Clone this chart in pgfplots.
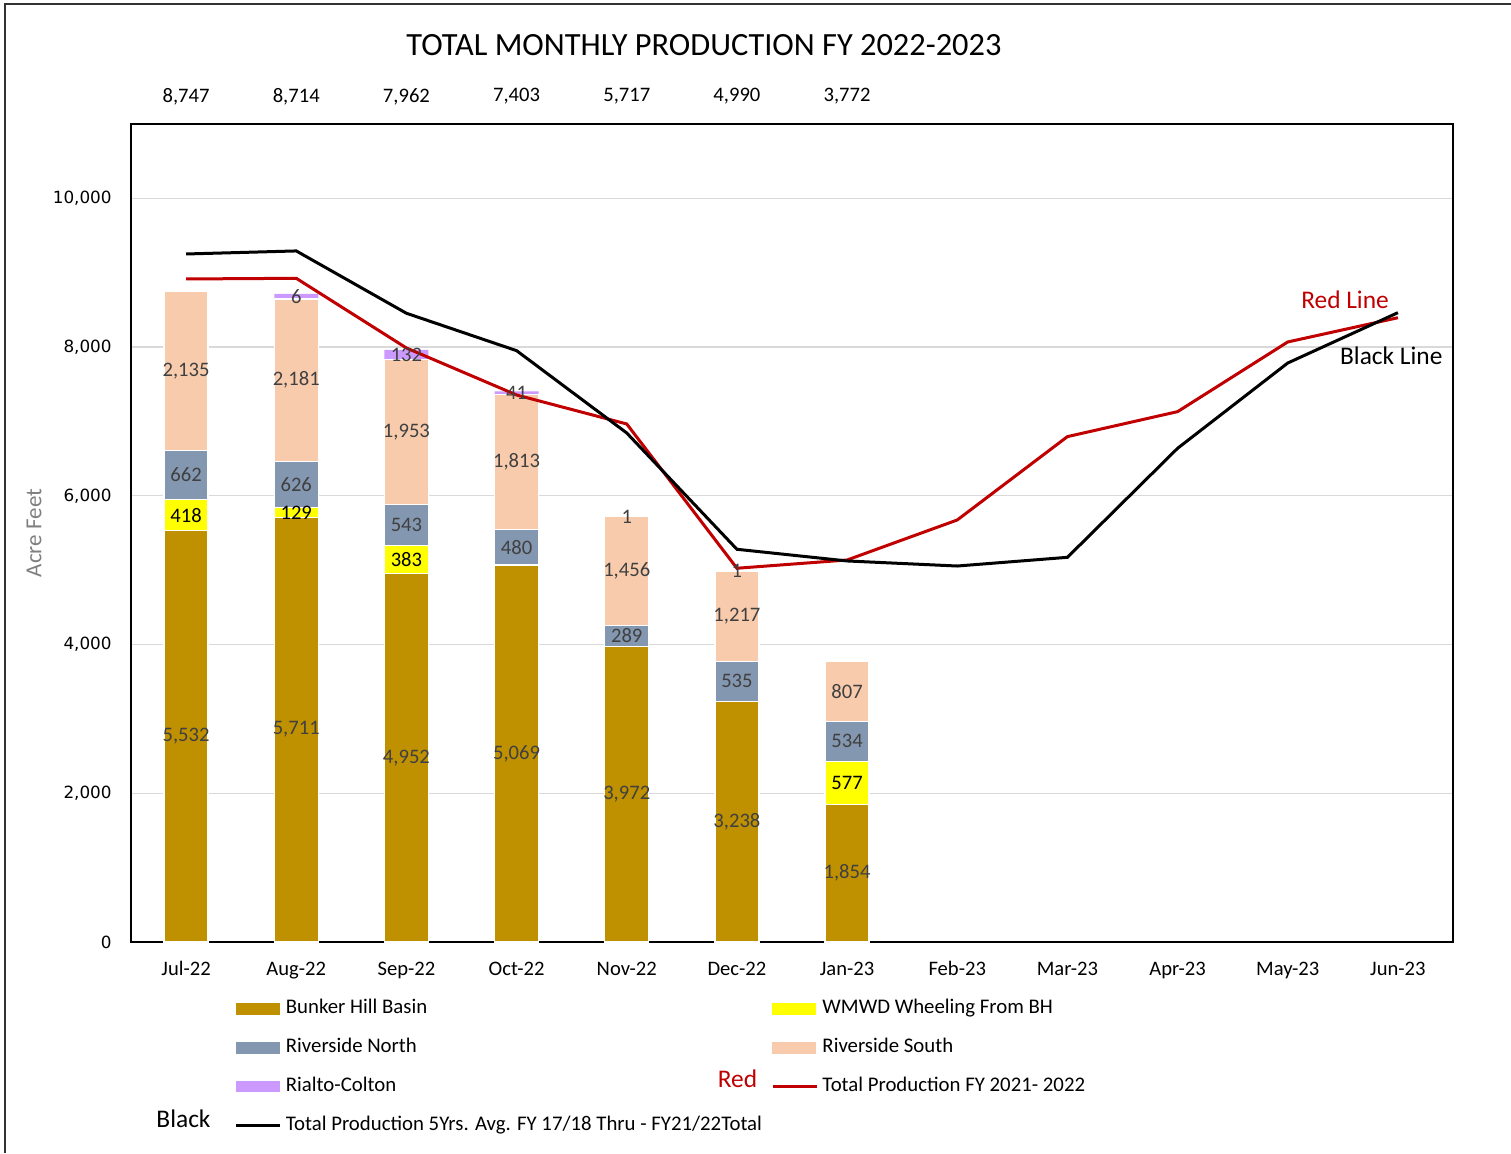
\documentclass[border=0pt]{standalone}
\usepackage{pgfplots}
\pgfplotsset{compat=1.18}
\usepackage{fontspec}
\setmainfont{Carlito}
\newfontfamily\dejavu{DejaVu Sans}
\definecolor{bunker}{HTML}{BF9000}
\definecolor{wmwd}{HTML}{FFFF00}
\definecolor{rivn}{HTML}{8497B0}
\definecolor{rivs}{HTML}{F8CBAD}
\definecolor{rialto}{HTML}{CC99FF}
\definecolor{redl}{HTML}{C00000}
\definecolor{lbl}{HTML}{404040}
\definecolor{gridc}{HTML}{D9D9D9}
\definecolor{axlbl}{HTML}{7F7F7F}

\pgfplotsset{
  common/.style={
    scale only axis, width=661pt, height=409pt,
    at={(65.5pt,105.5pt)}, anchor=south west,
    xmin=-0.5, xmax=11.5, ymin=0, ymax=11000,
  },
  seglabels/.style={
    nodes near coords,
    point meta=explicit symbolic,
    every node near coord/.append style={font=\fontsize{10.3}{12}\selectfont, text=#1, anchor=center, inner sep=0pt},
  },
  seglabels/.default=lbl,
}

\begin{document}
\begin{tikzpicture}
\useasboundingbox (0,0) rectangle (755.5pt,576.5pt);
% frame
\draw[line width=0.8pt, black!80] (2.5pt,0pt) -- (2.5pt,574.5pt) -- (755.5pt,574.5pt);

% ---------- axis 1 : bars ----------
\begin{axis}[common,
  ybar stacked, bar width=22pt,
  axis line style={black, line width=0.75pt},
  ymajorgrids, grid style={gridc, line width=0.6pt},
  ytick={0,2000,4000,6000,8000,10000},
  scaled y ticks=false,
  xtick={0,...,11},
  xticklabels={Jul-22,Aug-22,Sep-22,Oct-22,Nov-22,Dec-22,Jan-23,Feb-23,Mar-23,Apr-23,May-23,Jun-23},
  tick style={draw=none},
  /pgf/number format/assume math mode=true,
  /pgf/number format/1000 sep={,},
  yticklabel style={font=\dejavu\fontsize{8.4}{10}\selectfont, anchor=east, inner sep=0pt, xshift=-9.5pt},
  xticklabel style={font=\fontsize{10.3}{12}\selectfont, anchor=base, inner sep=0pt, yshift=-16.5pt},
  ylabel={Acre Feet},
  ylabel style={at={(axis description cs:-0.0734,0.5)}, anchor=center, text=axlbl, font=\fontsize{11.5}{13}\selectfont},
  title={TOTAL MONTHLY PRODUCTION FY 2022-2023},
  title style={at={(axis description cs:0.4334,1.082)}, anchor=center, font=\fontsize{16.2}{19}\selectfont},
]
\addplot[fill=bunker, draw=white, line width=0.6pt] coordinates {(0,5532) (1,5711) (2,4952) (3,5069) (4,3972) (5,3238) (6,1854)};
\addplot[fill=wmwd, draw=white, line width=0.6pt] coordinates {(0,418) (1,129) (2,383) (3,0) (4,0) (5,0) (6,577)};
\addplot[fill=rivn, draw=white, line width=0.6pt] coordinates {(0,662) (1,626) (2,543) (3,480) (4,289) (5,535) (6,534)};
\addplot[fill=rivs, draw=white, line width=0.6pt] coordinates {(0,2135) (1,2181) (2,1953) (3,1813) (4,1456) (5,1217) (6,807)};
\addplot[fill=rialto, draw=none] coordinates {(0,0) (1,67) (2,132) (3,41) (4,1) (5,1) (6,0)};
\end{axis}

% ---------- axis 2 : lines, totals, legend ----------
\begin{axis}[common,
  axis lines=none, clip=false,
  legend columns=2,
  legend cell align=left,
  legend style={at={(axis description cs:0.078,-0.0665)}, anchor=north west, draw=none, fill=none, inner sep=0pt,
    font=\fontsize{10.4}{12}\selectfont,
    nodes={inner sep=1pt, text height=0.75em, text depth=0.25em},
    row sep=7.45pt,
    /tikz/every odd column/.append style={column sep=1.2pt},
    /tikz/every even column/.append style={column sep=3.5pt}},
]
\addlegendimage{legend image code/.code={\fill[bunker] (0pt,-2.6pt) rectangle (21.5pt,2.6pt);}}
\addlegendentry{Bunker Hill Basin}
\addlegendimage{legend image code/.code={\fill[wmwd] (0pt,-2.6pt) rectangle (21.5pt,2.6pt);}}
\addlegendentry{WMWD Wheeling From BH}
\addlegendimage{legend image code/.code={\fill[rivn] (0pt,-2.6pt) rectangle (21.5pt,2.6pt);}}
\addlegendentry{Riverside North}
\addlegendimage{legend image code/.code={\fill[rivs] (0pt,-2.6pt) rectangle (21.5pt,2.6pt);}}
\addlegendentry{Riverside South}
\addlegendimage{legend image code/.code={\fill[rialto] (0pt,-2.6pt) rectangle (21.5pt,2.6pt);}}
\addlegendentry{Rialto-Colton}

\addplot[redl, line width=1.5pt, sharp plot, no marks,
  legend image code/.code={\draw[redl, line width=1.5pt] (0pt,0pt) -- (22pt,0pt);}]
  coordinates {(0,8916) (1,8925) (2,7988) (3,7356) (4,6966) (5,5026) (6,5137) (7,5675) (8,6796) (9,7132) (10,8069) (11,8395)};
\addlegendentry{Total Production FY 2021- 2022}
\addplot[black, line width=1.5pt, sharp plot, no marks,
  legend image code/.code={\draw[black, line width=1.5pt] (0pt,0pt) -- (22pt,0pt);}]
  coordinates {(0,9252) (1,9293) (2,8455) (3,7952) (4,6845) (5,5281) (6,5124) (7,5056) (8,5173) (9,6639) (10,7786) (11,8463)};
\addlegendentry{Total Production 5Yrs. Avg. FY 17/18 Thru - FY21/22Total}

\addplot[draw=none, no marks, forget plot, nodes near coords, point meta=explicit symbolic,
  every node near coord/.append style={anchor=center, yshift=13.8pt, font=\fontsize{10.3}{12}\selectfont, text=black}]
  table[meta=lab] {
x y lab
0 11000 8,747
1 11000 8,714
2 11000 7,962
3 11000 7,403
4 11000 5,717
5 11000 4,990
6 11000 3,772
};

\node[text=redl, font=\fontsize{12.7}{15}\selectfont] at (axis cs:10.52,8634) {Red Line};
\node[text=black, font=\fontsize{12.7}{15}\selectfont] at (axis cs:10.94,7880) {Black Line};
\end{axis}

% ---------- axis 3 : segment labels ----------
\begin{axis}[common,
  axis lines=none, ybar stacked, bar width=22pt,
]
\addplot[draw=none, fill=none, seglabels] table[meta=lab] {
x y lab
0 5532 5,532
1 5711 5,711
2 4952 4,952
3 5069 5,069
4 3972 3,972
5 3238 3,238
6 1854 1,854
};
\addplot[draw=none, fill=none, seglabels=black] table[meta=lab] {
x y lab
0 418 418
1 129 129
2 383 383
3 0 {}
4 0 {}
5 0 {}
6 577 577
};
\addplot[draw=none, fill=none, seglabels] table[meta=lab] {
x y lab
0 662 662
1 626 626
2 543 543
3 480 480
4 289 289
5 535 535
6 534 534
};
\addplot[draw=none, fill=none, seglabels] table[meta=lab] {
x y lab
0 2135 2,135
1 2181 2,181
2 1953 1,953
3 1813 1,813
4 1456 1,456
5 1217 1,217
6 807 807
};
\addplot[draw=none, fill=none, seglabels] table[meta=lab] {
x y lab
0 0 {}
1 67 6
2 132 132
3 41 41
4 1 1
5 1 1
6 0 {}
};
\end{axis}

\node[text=redl, font=\fontsize{12.7}{15}\selectfont] at (368.75pt,37pt) {Red};
\node[text=black, font=\fontsize{12.7}{15}\selectfont] at (91.75pt,17pt) {Black};
\end{tikzpicture}
\end{document}
